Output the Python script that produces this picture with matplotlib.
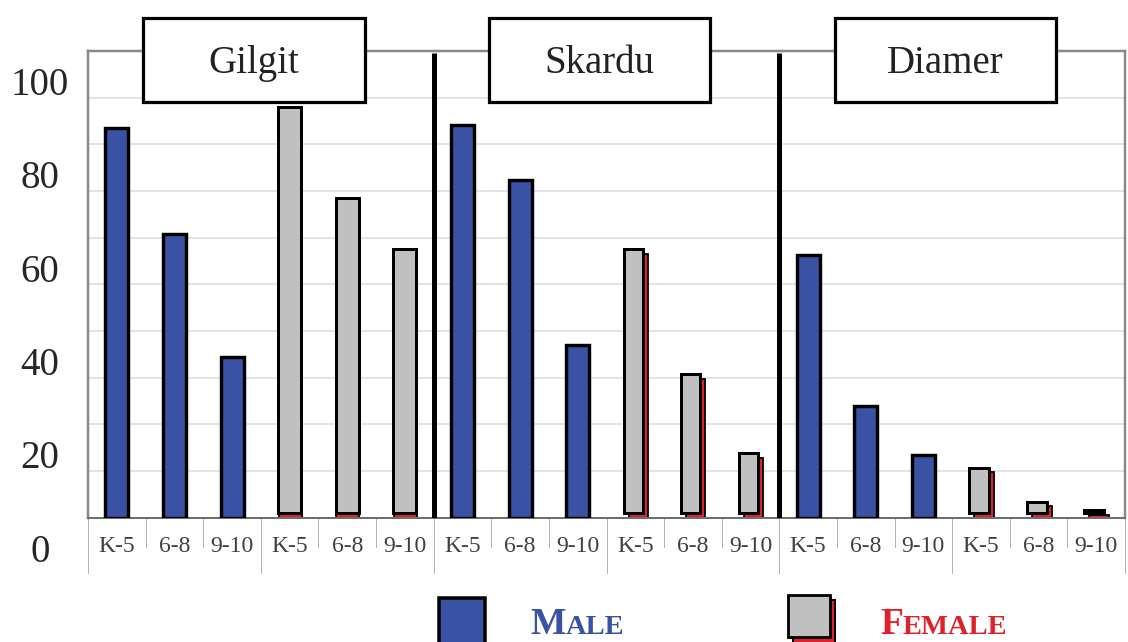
import matplotlib
matplotlib.use("Agg")
import matplotlib.pyplot as plt
import numpy as np
from matplotlib.patches import Rectangle
from matplotlib.transforms import ScaledTranslation, blended_transform_factory

# ---- data -------------------------------------------------------------
regions = ["Gilgit", "Skardu", "Diamer"]
grades = ["K-5", "6-8", "9-10"]
male_gilgit = [83.5, 60.8, 34.5]
male_skardu = [84.2, 72.4, 37.0]
male_diamer = [56.2, 23.8, 13.5]
female_gilgit = [87.0, 67.5, 56.5]
female_skardu = [56.5, 29.7, 12.8]
female_diamer = [9.7, 2.4, 0.6]
y_labels = [0, 20, 40, 60, 80, 100]

male = [male_gilgit, male_skardu, male_diamer]
female = [female_gilgit, female_skardu, female_diamer]

# ---- style ------------------------------------------------------------
W, H = 1128, 642
SERIF = "Liberation Serif"
BLUE = "#3a52a3"
GRAY = "#c0c0c0"
RED = "#e0202a"
PX = 72 / 100  # points per pixel at dpi 100

fig = plt.figure(figsize=(W / 100, H / 100), dpi=100)
ax = fig.add_axes([88 / W, (H - 517.5) / H, (1125 - 88) / W, (517.5 - 51) / H])

n_cat = len(regions) * 2 * len(grades)
ax.set_xlim(-0.5, n_cat - 0.5)
ax.set_ylim(0, 100)
ax.set_yticks(np.arange(0, 101, 10))
ax.set_xticks([])
ax.tick_params(axis="y", length=0, labelleft=False)
ax.yaxis.grid(True, color="#dadada", lw=1.5 * PX)
ax.set_axisbelow(True)
for side in ("left", "right", "top"):
    ax.spines[side].set_color("#8a8a8a")
    ax.spines[side].set_linewidth(2.5 * PX)
ax.spines["bottom"].set_color("#6e6e6e")
ax.spines["bottom"].set_linewidth(2.0 * PX)


def shifted(dx_px, dy_px):
    return ax.transData + ScaledTranslation(dx_px / 100, dy_px / 100, fig.dpi_scale_trans)


# per-region shadow geometry for the female bars (pixels)
shadow_dx = [0.5, 5.0, 5.0]
front_dx = [0.0, -2.0, -2.0]
front_w = [0.40, 0.33, 0.35]
front_lift = 4.5

ng = len(grades)
for g, region in enumerate(regions):
    base = g * 2 * ng
    xm = np.arange(ng) + base
    xf = np.arange(ng) + base + ng
    ax.bar(xm, male[g], width=0.40, color=BLUE, edgecolor="black",
           linewidth=3.4 * PX, zorder=3)
    ax.bar(xf, female[g], width=front_w[g], color=RED, edgecolor="black",
           linewidth=1.8 * PX, zorder=2.5,
           transform=shifted(shadow_dx[g] + front_dx[g], 0))
    ax.bar(xf, female[g], width=front_w[g], color=GRAY, edgecolor="black",
           linewidth=3.0 * PX, zorder=3,
           transform=shifted(front_dx[g], front_lift))

# region dividers
ax.vlines([2 * ng * g - 0.5 for g in range(1, len(regions))], 0, 99.6,
          colors="black", lw=5 * PX, zorder=4)

# category labels and separators below the axis
sep_tr = blended_transform_factory(ax.transData, ax.transAxes)
for i in range(n_cat + 1):
    long_sep = i % ng == 0
    ax.plot([i - 0.5, i - 0.5], [0, -0.118 if long_sep else -0.064],
            color="#b4b4b4", lw=1.0 * PX, transform=sep_tr, clip_on=False)
for i in range(n_cat):
    ax.annotate(grades[i % ng], xy=(i, 0), xytext=(0, -34), textcoords="offset pixels",
                ha="center", va="baseline", fontsize=17, family=SERIF,
                color="#404040", annotation_clip=False)

# y labels
for v in y_labels:
    ax.annotate(str(v), xy=(0, v), xycoords=("axes fraction", "data"),
                xytext=(-48, -44), textcoords="offset pixels",
                ha="center", va="baseline", fontsize=28, family=SERIF,
                color="#262626", annotation_clip=False)

# region title boxes
box_tr = blended_transform_factory(ax.transData, fig.transFigure)
box_w = 3.84
for g, region in enumerate(regions):
    cx = g * 2 * ng + ng - 0.5 - 0.12
    ax.add_patch(Rectangle((cx - box_w / 2, (H - 102) / H), box_w, 84 / H,
                           transform=box_tr, facecolor="white", edgecolor="black",
                           linewidth=3.2 * PX, clip_on=False, zorder=6))
    ax.text(cx, (H - 73) / H, region, transform=box_tr, ha="center", va="baseline",
            fontsize=28, family=SERIF, color="#222222", zorder=7)


# legend
def fig_rect(x0, y0, x1, y1, **kw):
    fig.add_artist(Rectangle((x0 / W, (H - y1) / H), (x1 - x0) / W, (y1 - y0) / H,
                             transform=fig.transFigure, **kw))


fig_rect(439, 598, 485, 652, facecolor=BLUE, edgecolor="black", linewidth=3.5 * PX)
fig_rect(793, 600, 835, 646, facecolor=RED, edgecolor="black", linewidth=2 * PX)
fig_rect(788, 595, 830, 637, facecolor=GRAY, edgecolor="black", linewidth=2.8 * PX)


def small_caps(x, baseline, word, color):
    first = fig.text(x / W, (H - baseline) / H, word[0], fontsize=27, family=SERIF,
                     weight="bold", color=color, va="baseline")
    fig.add_artist(plt.Annotation(word[1:], xy=(1, H - baseline),
                                  xycoords=(first, "figure pixels"),
                                  va="baseline", ha="left", fontsize=20.5,
                                  family=SERIF, weight="bold", color=color))


small_caps(530, 634, "MALE", BLUE)
small_caps(880, 634, "FEMALE", RED)

fig.savefig("out.png", dpi=100)
